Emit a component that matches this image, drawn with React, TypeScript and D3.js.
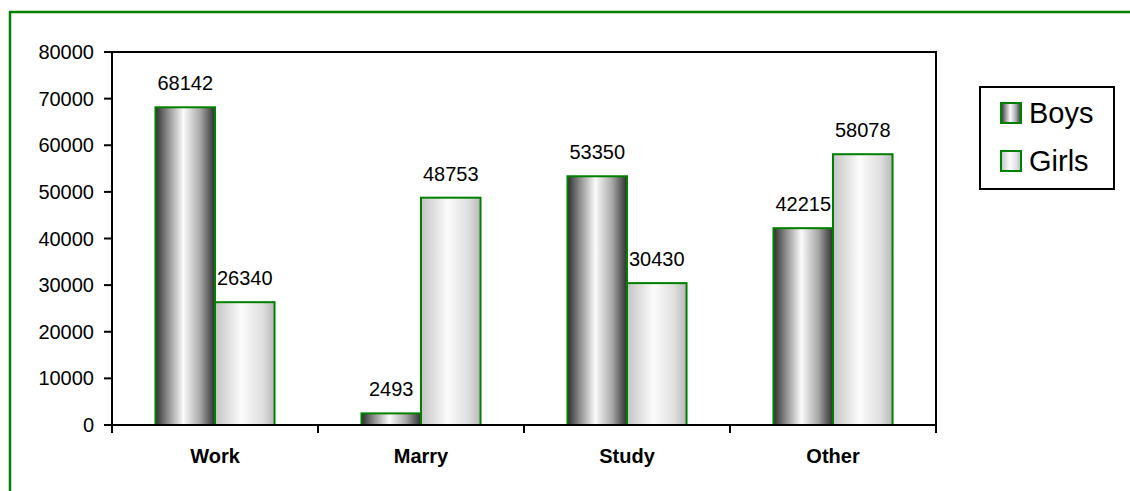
import React from "react";
import * as d3 from "d3";

const categories = ["Work", "Marry", "Study", "Other"];
const seriesNames = ["Boys", "Girls"];
const boys = [68142, 2493, 53350, 42215];
const girls = [26340, 48753, 30430, 58078];
const yTicks = [0, 10000, 20000, 30000, 40000, 50000, 60000, 70000, 80000];

const W = 1130;
const H = 491;
const plot = { left: 112, right: 936, top: 52, bottom: 425 };
const GREEN = "#008000";
const FONT = "Arial, 'Liberation Sans', Helvetica, sans-serif";

export default function App() {
  const x = d3
    .scaleBand<string>()
    .domain(categories)
    .range([plot.left, plot.right])
    .paddingInner(0)
    .paddingOuter(0);
  const groupW = x.bandwidth() * 0.578;
  const xs = d3
    .scaleBand<string>()
    .domain(seriesNames)
    .range([0, groupW])
    .padding(0);
  const y = d3.scaleLinear().domain([0, 80000]).range([plot.bottom, plot.top]);

  const series = [boys, girls];
  const boundaries = [...categories.map((c) => x(c)!), plot.right];

  return (
    <svg
      width={W}
      height={H}
      style={{ position: "absolute", left: 0, top: 0, background: "#fff" }}
      fontFamily={FONT}
    >
      <defs>
        <linearGradient id="gBoys" x1="0" x2="1" y1="0" y2="0">
          <stop offset="0%" stopColor="#2e2e2e" />
          <stop offset="20%" stopColor="#8a8a8a" />
          <stop offset="47%" stopColor="#fbfbfb" />
          <stop offset="75%" stopColor="#a8a8a8" />
          <stop offset="100%" stopColor="#2e2e2e" />
        </linearGradient>
        <linearGradient id="gGirls" x1="0" x2="1" y1="0" y2="0">
          <stop offset="0%" stopColor="#c4c4c4" />
          <stop offset="45%" stopColor="#fcfcfc" />
          <stop offset="80%" stopColor="#dedede" />
          <stop offset="100%" stopColor="#b8b8b8" />
        </linearGradient>
      </defs>

      {/* outer frame */}
      <rect x={10} y={12} width={W + 20} height={H + 20} fill="none" stroke={GREEN} strokeWidth={2.5} />

      {/* plot area border (top and right) */}
      <path
        d={`M${plot.left},${plot.top}H${plot.right}V${plot.bottom}`}
        fill="none"
        stroke="#000"
        strokeWidth={2}
      />

      {/* bars */}
      {categories.map((c, i) => {
        const gx = x(c)! + (x.bandwidth() - groupW) / 2;
        return (
          <g key={c}>
            {series.map((s, k) => {
              const v = s[i];
              const bx = gx + xs(seriesNames[k])!;
              const by = y(v);
              return (
                <g key={k}>
                  <rect
                    x={bx}
                    y={by}
                    width={xs.bandwidth()}
                    height={plot.bottom - by}
                    fill={k === 0 ? "url(#gBoys)" : "url(#gGirls)"}
                    stroke={GREEN}
                    strokeWidth={2}
                  />
                  <text
                    x={bx + xs.bandwidth() / 2}
                    y={by - 17}
                    textAnchor="middle"
                    fontSize={20}
                    fill="#000"
                  >
                    {v}
                  </text>
                </g>
              );
            })}
          </g>
        );
      })}

      {/* y axis */}
      <line x1={plot.left} x2={plot.left} y1={plot.top} y2={plot.bottom} stroke="#000" strokeWidth={2} />
      {yTicks.map((t) => (
        <g key={t}>
          <line x1={plot.left - 8} x2={plot.left} y1={y(t)} y2={y(t)} stroke="#000" strokeWidth={2} />
          <text x={plot.left - 18} y={y(t) + 7} textAnchor="end" fontSize={20} fill="#000">
            {t}
          </text>
        </g>
      ))}

      {/* x axis */}
      <line x1={plot.left - 8} x2={plot.right} y1={plot.bottom} y2={plot.bottom} stroke="#000" strokeWidth={2} />
      {boundaries.map((b, i) => (
        <line key={i} x1={b} x2={b} y1={plot.bottom} y2={plot.bottom + 8} stroke="#000" strokeWidth={2} />
      ))}
      {categories.map((c) => (
        <text
          key={c}
          x={x(c)! + x.bandwidth() / 2}
          y={463}
          textAnchor="middle"
          fontSize={20}
          fontWeight="bold"
          fill="#000"
        >
          {c}
        </text>
      ))}

      {/* legend */}
      <rect x={980} y={87} width={134} height={102} fill="#fff" stroke="#000" strokeWidth={2} />
      {seriesNames.map((n, k) => (
        <g key={n} transform={`translate(1001,${103 + k * 48})`}>
          <rect
            x={0}
            y={0}
            width={20}
            height={20}
            fill={k === 0 ? "url(#gBoys)" : "url(#gGirls)"}
            stroke={GREEN}
            strokeWidth={2}
          />
          <text x={28} y={20} fontSize={29} fill="#000">
            {n}
          </text>
        </g>
      ))}
    </svg>
  );
}
